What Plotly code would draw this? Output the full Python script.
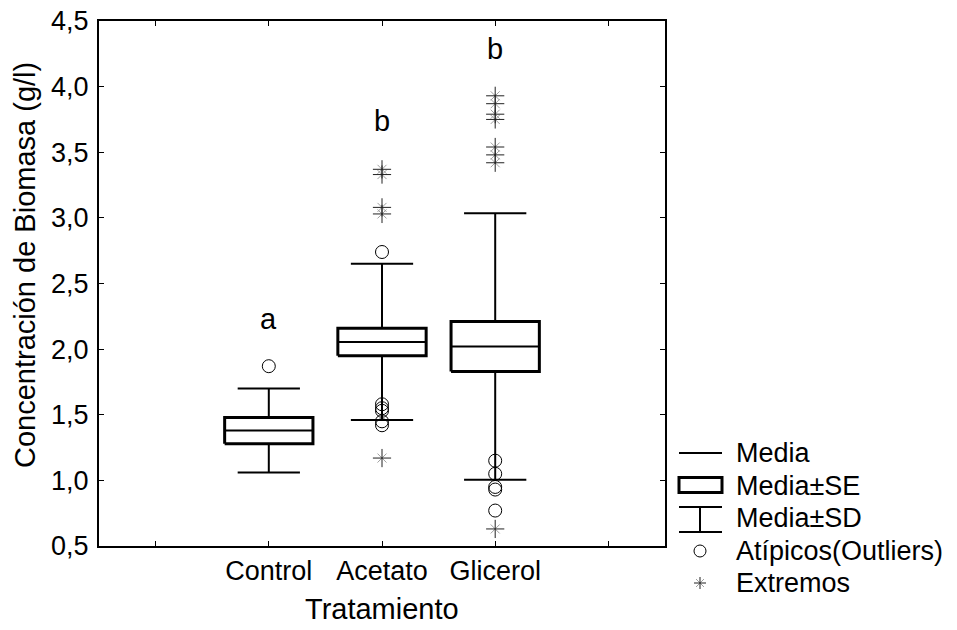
import plotly.graph_objects as go

# Biomass concentration by treatment: mean, standard error, standard deviation
categorias = ["Control", "Acetato", "Glicerol"]
media = [1.38, 2.055, 2.02]
error_estandar = [0.10, 0.105, 0.19]
desviacion = [0.32, 0.595, 1.015]

# Outliers and extreme values per treatment
atipicos = [
    [1.87],
    [2.74, 1.58, 1.55, 1.53, 1.45, 1.42],
    [1.15, 1.05, 0.95, 0.93, 0.77],
]
extremos = [
    [],
    [3.37, 3.33, 3.08, 3.03, 1.17],
    [3.93, 3.87, 3.79, 3.75, 3.54, 3.48, 3.42, 0.63],
]

# Significance letters and their heights
letras = ["a", "b", "b"]
altura_letras = [2.23, 3.74, 4.29]

y_ticks = [0.5, 1.0, 1.5, 2.0, 2.5, 3.0, 3.5, 4.0, 4.5]
y_ticktext = ["0,5", "1,0", "1,5", "2,0", "2,5", "3,0", "3,5", "4,0", "4,5"]

FONT = "Liberation Sans, Arial, sans-serif"
BOX_HW = 0.39
CAP_HW = 0.275

fig = go.Figure()
line_common = dict(mode="lines", hoverinfo="skip", showlegend=False)

for i, cat in enumerate(categorias):
    x0 = i + 1
    m, se, sd = media[i], error_estandar[i], desviacion[i]
    # whiskers (mean ± SD) with caps
    fig.add_trace(go.Scatter(
        x=[x0, x0, None, x0, x0, None,
           x0 - CAP_HW, x0 + CAP_HW, None, x0 - CAP_HW, x0 + CAP_HW],
        y=[m + se, m + sd, None, m - se, m - sd, None,
           m + sd, m + sd, None, m - sd, m - sd],
        line=dict(color="black", width=2), **line_common))
    # box (mean ± SE)
    fig.add_trace(go.Scatter(
        x=[x0 - BOX_HW, x0 + BOX_HW, x0 + BOX_HW, x0 - BOX_HW, x0 - BOX_HW],
        y=[m - se, m - se, m + se, m + se, m - se],
        fill="toself", fillcolor="white",
        line=dict(color="black", width=3), **line_common))
    # mean line
    fig.add_trace(go.Scatter(
        x=[x0 - BOX_HW, x0 + BOX_HW], y=[m, m],
        line=dict(color="black", width=2), **line_common))
    # outliers
    if atipicos[i]:
        fig.add_trace(go.Scatter(
            x=[x0] * len(atipicos[i]), y=atipicos[i], mode="markers",
            marker=dict(symbol="circle-open", size=13, color="black",
                        line=dict(width=1)),
            hoverinfo="y", showlegend=False))
    # extremes: light diagonals under a thin cross
    if extremos[i]:
        fig.add_trace(go.Scatter(
            x=[x0] * len(extremos[i]), y=extremos[i], mode="markers",
            marker=dict(symbol="x-thin-open", size=9, color="#a0a0a0",
                        line=dict(width=1, color="#a0a0a0")),
            hoverinfo="skip", showlegend=False))
        fig.add_trace(go.Scatter(
            x=[x0] * len(extremos[i]), y=extremos[i], mode="markers",
            marker=dict(symbol="cross-thin-open", size=13, color="#222",
                        line=dict(width=1, color="#222")),
            hoverinfo="y", showlegend=False))
    fig.add_annotation(x=x0, y=altura_letras[i], text=letras[i],
                       showarrow=False, font=dict(family=FONT, size=29, color="black"))

# Legend and axis titles placed in paper coordinates around the plot area
L, R, T, B = 99, 665, 21, 546


def px(xp):
    return (xp - L) / (R - L)


def py(yp):
    return (B - yp) / (B - T)


leyenda = ["Media", "Media±SE", "Media±SD", "Atípicos(Outliers)", "Extremos"]
leyenda_y = [453, 485.5, 518, 551, 583]
sx0, sx1, sxc, tx = 679, 722, 700, 734

shapes = []
# Media: plain line
shapes.append(dict(type="line", xref="paper", yref="paper",
                   x0=px(sx0), x1=px(sx1), y0=py(leyenda_y[0]), y1=py(leyenda_y[0]),
                   line=dict(color="black", width=2)))
# Media±SE: rectangle
shapes.append(dict(type="rect", xref="paper", yref="paper",
                   x0=px(sx0), x1=px(sx1), y0=py(leyenda_y[1] + 7), y1=py(leyenda_y[1] - 8),
                   line=dict(color="black", width=3)))
# Media±SD: I-shape
for yy in (leyenda_y[2] - 11, leyenda_y[2] + 14):
    shapes.append(dict(type="line", xref="paper", yref="paper",
                       x0=px(sx0), x1=px(sx1), y0=py(yy), y1=py(yy),
                       line=dict(color="black", width=2)))
shapes.append(dict(type="line", xref="paper", yref="paper",
                   x0=px(sxc), x1=px(sxc), y0=py(leyenda_y[2] - 11), y1=py(leyenda_y[2] + 14),
                   line=dict(color="black", width=2)))
# Outlier symbol
shapes.append(dict(type="circle", xref="paper", yref="paper",
                   x0=px(sxc - 6), x1=px(sxc + 6), y0=py(leyenda_y[3] + 6), y1=py(leyenda_y[3] - 6),
                   line=dict(color="black", width=1)))
# Extreme symbol
ey = leyenda_y[4]
shapes += [
    dict(type="line", xref="paper", yref="paper", x0=px(sxc - 4), x1=px(sxc + 4),
         y0=py(ey + 4), y1=py(ey - 4), line=dict(color="#a0a0a0", width=1)),
    dict(type="line", xref="paper", yref="paper", x0=px(sxc - 4), x1=px(sxc + 4),
         y0=py(ey - 4), y1=py(ey + 4), line=dict(color="#a0a0a0", width=1)),
    dict(type="line", xref="paper", yref="paper", x0=px(sxc), x1=px(sxc),
         y0=py(ey + 6), y1=py(ey - 6), line=dict(color="#222", width=1)),
    dict(type="line", xref="paper", yref="paper", x0=px(sxc - 6), x1=px(sxc + 6),
         y0=py(ey), y1=py(ey), line=dict(color="#222", width=1)),
]
for etiqueta, yy in zip(leyenda, leyenda_y):
    fig.add_annotation(xref="paper", yref="paper", x=px(tx), y=py(yy),
                       xanchor="left", yanchor="middle", text=etiqueta, showarrow=False,
                       font=dict(family=FONT, size=27, color="black"))

# Axis titles
fig.add_annotation(xref="paper", yref="paper", x=px(382), y=py(609),
                   xanchor="center", yanchor="middle", text="Tratamiento",
                   showarrow=False, font=dict(family=FONT, size=29, color="black"))
fig.add_annotation(xref="paper", yref="paper", x=px(25), y=py(265),
                   xanchor="center", yanchor="middle", textangle=-90,
                   text="Concentración de Biomasa (g/l)",
                   showarrow=False, font=dict(family=FONT, size=29, color="black"))

axis_common = dict(
    showline=True, linecolor="black", linewidth=2, mirror="ticks",
    ticks="inside", ticklen=5, tickwidth=1, tickcolor="black",
    showgrid=False, zeroline=False, automargin=False,
    tickfont=dict(family=FONT, size=27, color="black"),
)

fig.update_layout(
    width=957, height=630,
    margin=dict(l=L, r=957 - R, t=T, b=630 - B),
    paper_bgcolor="white", plot_bgcolor="white",
    shapes=shapes,
    xaxis=dict(range=[-0.5, 4.5], tickvals=[0, 1, 2, 3, 4],
               ticktext=[""] + categorias + [""], **axis_common),
    yaxis=dict(range=[0.5, 4.5], tickvals=y_ticks, ticktext=y_ticktext,
               ticklabelstandoff=3, **axis_common),
    font=dict(family=FONT, color="black"),
)

fig.write_html("out.html")
